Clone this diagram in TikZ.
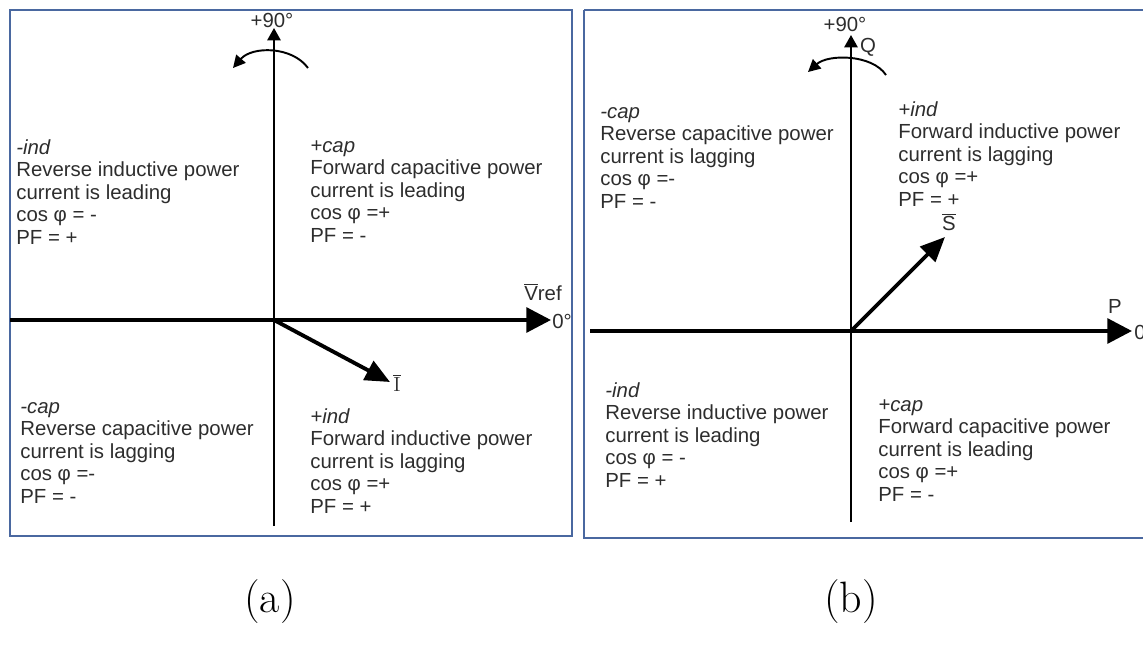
\documentclass[tikz,border=0pt]{standalone}
\usepackage{fontspec}
\newfontfamily\diagfont{Liberation Sans}
\usetikzlibrary{arrows.meta,positioning}

\definecolor{boxblue}{RGB}{74,104,160}
\definecolor{inkgray}{RGB}{45,45,45}

\tikzset{
  panel/.style={draw=boxblue, line width=1.1pt},
  vaxis/.style={line width=1.2pt, -{Triangle[length=7pt,width=7.5pt]}},
  haxis/.style={line width=2.3pt, -{Triangle[length=14pt,width=14pt]}},
  phasor/.style={line width=2.2pt, -{Triangle[length=14pt,width=12pt]}},
  turn/.style={line width=1.1pt, -{Triangle[length=7pt,width=7pt]}},
  quad/.style={anchor=north west, inner sep=0pt, align=left, text=inkgray,
    font=\diagfont\fontsize{11.6}{12.8}\selectfont},
  lbl/.style={inner sep=0pt, text=inkgray, font=\diagfont\fontsize{11.6}{12.8}\selectfont},
  caption/.style={inner sep=0pt, font=\fontsize{25}{28}\selectfont}
}

\begin{document}
\begin{tikzpicture}[x=0.02cm, y=-0.02cm]
  \useasboundingbox (0,0) rectangle (1143,645);

  % ---------- panel (a) ----------
  \draw[panel] (10,10) rectangle (572,536);
  \coordinate (oa) at (274,320);
  \coordinate (a-top) at (274,28);
  \coordinate (a-bot) at (274,526);
  \coordinate (a-left) at (10,320);
  \coordinate (a-right) at (551,320);
  \coordinate (a-i) at (390,382);
  \draw[vaxis] (a-bot) -- (a-top);
  \draw[haxis] (a-left) -- (a-right);
  \draw[phasor] (oa) -- (a-i);
  % rotation sense
  \draw[turn] (308,68) .. controls (292,46) and (252,46) .. (233,68);
  \node[lbl] (a90) at (272,20) {+90°};
  \node[lbl, anchor=west] (a0) at (552,321) {0°};
  \node[lbl] (avref) at (543,292) {$\overline{\mbox{V}}$ref};
  \node[lbl] (ai) at (397,383) {$\overline{\mathrm{I}}$};
  % quadrants
  \node[quad] (a-tl) at (16,139) {{\itshape -ind}\\Reverse inductive power\\current is leading\\cos φ = -\\PF = +};
  \node[quad] (a-tr) at (310,140) {{\itshape +cap}\\Forward capacitive power\\current is leading\\cos φ =+\\PF = -};
  \node[quad] (a-bl) at (20,402) {{\itshape -cap}\\Reverse capacitive power\\current is lagging\\cos φ =-\\PF = -};
  \node[quad] (a-br) at (310,408) {{\itshape +ind}\\Forward inductive power\\current is lagging\\cos φ =+\\PF = +};

  % ---------- panel (b) ----------
  \draw[panel] (584,10) -- (1150,10);
  \draw[panel] (584,10) -- (584,538) -- (1150,538);
  \coordinate (ob) at (851,331);
  \coordinate (b-top) at (851,35);
  \coordinate (b-bot) at (851,522);
  \coordinate (b-left) at (590,331);
  \coordinate (b-right) at (1132,331);
  \coordinate (b-s) at (945,237);
  \draw[vaxis] (b-bot) -- (b-top);
  \draw[haxis] (b-left) -- (b-right);
  \draw[phasor] (ob) -- (b-s);
  \draw[turn] (886,75) .. controls (872,54) and (828,54) .. (808,72);
  \node[lbl] (b90) at (845,24) {+90°};
  \node[lbl] (bq) at (868,47) {Q};
  \node[lbl] (bp) at (1115,306) {P};
  \node[lbl, anchor=west] (b0) at (1134,332) {0°};
  \node[lbl] (bs) at (949,222) {$\overline{\mbox{S}}$};
  % quadrants
  \node[quad] (b-tl) at (600,107) {{\itshape -cap}\\Reverse capacitive power\\current is lagging\\cos φ =-\\PF = -};
  \node[quad] (b-tr) at (898,101) {{\itshape +ind}\\Forward inductive power\\current is lagging\\cos φ =+\\PF = +};
  \node[quad] (b-bl) at (605,382) {{\itshape -ind}\\Reverse inductive power\\current is leading\\cos φ = -\\PF = +};
  \node[quad] (b-br) at (878,399) {{\itshape +cap}\\Forward capacitive power\\current is leading\\cos φ =+\\PF = -};

  % captions
  \node[caption] (cap-a) at (270,602) {(a)};
  \node[caption] (cap-b) at (851,602) {(b)};
\end{tikzpicture}
\end{document}
